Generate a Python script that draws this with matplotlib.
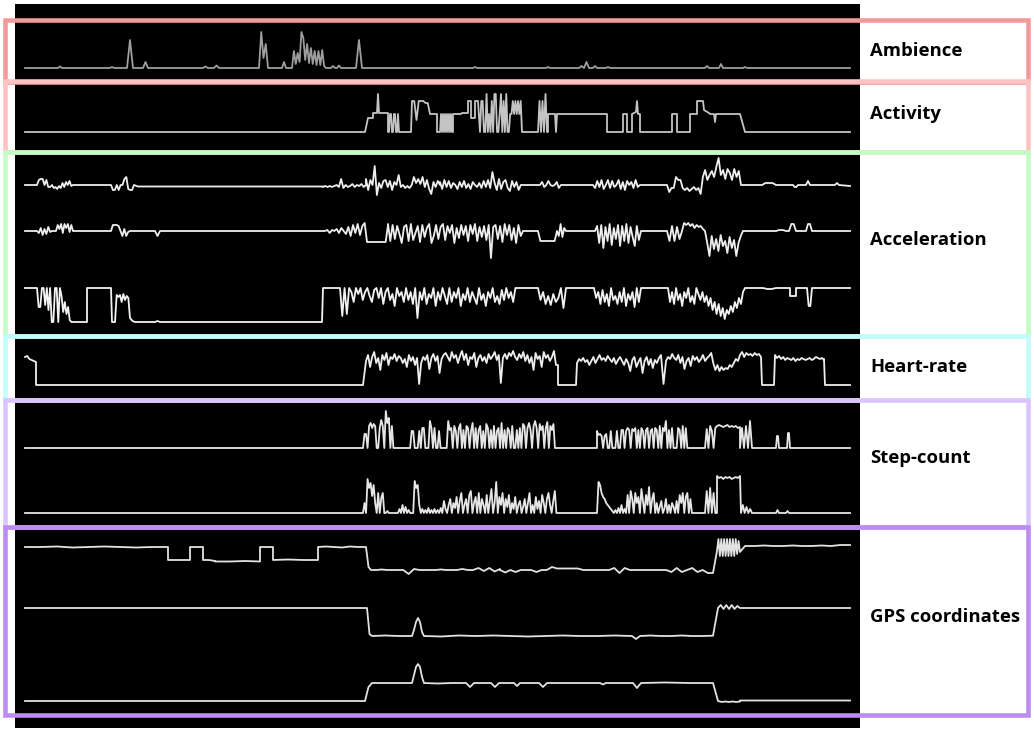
import matplotlib
matplotlib.use("Agg")
import matplotlib.pyplot as plt
import numpy as np
from matplotlib.patches import Rectangle

# === sensor traces ===
# every piece is (t_start, t_end, values); values are spread evenly over the span
# time in samples, values in display units above each trace's zero level

AMBIENCE = [
    (25, 58, [0, 0]), (58, 62, [0, 1.5, 0]), (110, 114, [0, 1, 0]),
    (127, 133, [0, 28, 0]), (143, 148, [0, 6, 0]), (203, 208, [0, 1.5, 0]),
    (214, 219, [0, 2.5, 0]), (259, 268, [0, 36, 10, 24, 0]), (282, 286, [0, 6, 0]),
    (292, 326, [0, 17, 4, 15, 6, 36, 30, 8, 24, 5, 20, 4, 17, 3, 17, 3, 18, 2, 0]),
    (331, 335, [0, 2, 0]), (337, 341, [0, 2.5, 0]), (356, 362, [0, 28, 0]),
    (473, 477, [0, 1, 0]), (546, 550, [0, 1, 0]), (579, 584, [0, 2, 0]),
    (584, 589, [0, 6, 0]), (593, 597, [0, 2, 0]), (606, 610, [0, 1, 0]),
    (705, 709, [0, 2, 0]), (719, 723, [0, 4, 0]), (743, 747, [0, 1, 0]),
    (850, 850, [0]),
]

ACTIVITY = [
    (25, 365, [0, 0]), (365, 368, [0, 14]), (368, 373, [14, 14]), (373, 373, [14, 19]),
    (373, 377, [19, 19]), (377, 379, [19, 38, 19]), (379, 388, [19, 19]), (388, 388, [19, 0]),
    (389, 399, [0, 18, 18, 0, 0, 18, 18, 0, 0, 18, 0]),
    (411, 412, [0, 31]), (412, 430, [31, 31, 12, 31, 31, 31, 29, 29, 18]),
    (430, 437, [18, 18]), (437, 437, [18, 0]),
    (440, 452, [0, 18, 0, 18, 0, 18, 0, 18, 0, 18, 0, 18, 0]),
    (453, 453, [0, 18]), (453, 461, [18, 18]), (462, 467, [19, 19]), (468, 468, [19, 31]),
    (468, 470, [31, 31]), (471, 471, [31, 14]), (471, 474, [14, 14]), (475, 475, [14, 31]),
    (475, 478, [31, 31]), (478, 480, [31, 0]),
    (480, 522, [0, 31, 31, 0, 0, 38, 0, 18, 0, 31, 0, 38, 38, 0, 0, 18, 38, 0, 31, 0, 38, 0,
                0, 18, 18, 31, 18, 31, 18, 31, 18, 31, 0]),
    (538, 547, [0, 31, 0, 31, 0, 38, 0]),
    (548, 548, [0, 18]), (548, 555, [18, 18]), (555, 557, [18, 0, 18]), (557, 607, [18, 18]),
    (607, 607, [18, 0]), (623, 623, [0, 18]), (623, 626, [18, 18]), (627, 627, [18, 0]),
    (632, 632, [0, 18]), (632, 636, [18, 20]), (637, 638, [31, 18]), (640, 640, [18, 0]),
    (672, 672, [0, 18]), (672, 677, [18, 18]), (677, 677, [18, 0]),
    (690, 690, [0, 18]), (690, 696, [18, 18]), (697, 697, [18, 31]), (697, 703, [31, 31]),
    (704, 709, [22, 19]), (710, 714, [18, 18]), (715, 716, [10, 18]), (716, 740, [18, 18]),
    (740, 745, [18, 0]), (850, 850, [0]),
]

ACC_1 = [
    (25, 37, [0, 0]),
    (37, 52, [0, 5, 6, 6, 0, 5, -2, -2, 0]),
    (52, 73, [0, -3, -2, -4, -1, -3, 2, -2, 3, 0, 4, -1, 0]),
    (111, 134, [0, -5, -5, 0, -5, 0, 0, 6, 8, -4, -5, -5, 0]),
    (138, 323, [-1.5, -1.5]),
    (323, 366, [-2, -1, -2, -1, -2, -1, 0, -2, 6, -3, 0, -2, -1, 1, -2, 0, -1, 1, -2, 0]),
    (366, 440, [6, -5, 5, 0, 19, -10, 2, -3, 4, 5, -2, 4, -5, 3, 0, 10, -2, 0, -3, -1, -3, 0,
                8, 2, 6, 1, 8, -2, 5, -4, -9, 3, -2, 4, 0]),
    (440, 523, [3, -4, 5, -2, 4, -3, 2, 0, -4, 3, -2, 4, -3, 1, -4, 3, 0, -2, 2, -3, 4, -2, 5,
                -3, 13, 2, -5, 6, -4, 3, 5, -3, -6, 4, -2, 3, -5, 0, 0]),
    (540, 563, [0, 3, -2, 0, 4, 0, -1, 0, 3, -3, 0, 0]),
    (593, 642, [0, -3, 4, -2, 5, -4, 0, 5, -3, 4, -2, 0, 5, -4, 3, -5, 4, 0, 3, -3, 5, -2, 0, 0]),
    (667, 741, [0, -7, -3, -3, 8, 5, 5, -3, -5, -3, -6, -4, -2, -5, -3, -9, 8, 15, 5, 10, 14, 8,
                18, 27, 10, 15, 6, 16, 12, 5, 16, 8, 14, 0]),
    (762, 776, [0, 2, 2, 2, 0]), (793, 798, [0, -2, -2, 0]), (806, 810, [0, 4, 0]),
    (835, 839, [0, 2, 0]), (850, 850, [-1]),
]

ACC_2 = [
    (25, 37, [0, 0]),
    (37, 52, [0, -2, 3, -4, 2, -3, 4, -1, 0]),
    (56, 73, [0, 6, 2, 7, -2, 7, 3, 7, -1, 6, 0]),
    (111, 130, [0, 6, 6, 6, 5, 0, -5, 2, -5, -1, 0]),
    (155, 160, [0, -5, 0]),
    (325, 388, [0, 1, -2, 1, 0, 2, -2, 3, 0, -3, 4, -5, 6, -2, 7, -4, 5, 8, -11, -11, -11, -11,
                -11, -11, -11, -11, -11, 6]),
    (388, 523, [7, -10, 6, -8, 5, -3, -12, 4, 6, -10, 7, -9, -2, 5, -11, 6, -6, 3, 7, -12, -5, 6,
                -8, 4, 7, -9, 5, -2, 6, -12, 3, -7, 6, -4, 5, -10, 6, -3, 7, -10, 4, -6, 5, -9,
                6, -27, 4, 6, -8, 5, -11, 7, -4, 6, -9, 3, -12, 6, -5, 0]),
    (538, 557, [0, -10, -10, -10, -10, -10, -10, -10, 0]),
    (557, 566, [0, -5, 7, -6, 3, 0]),
    (595, 641, [0, 5, -12, 6, -17, 4, -10, 7, -14, 3, -8, 6, -15, 5, -10, 7, -12, 4, -6, -15, 5,
                -9, 0]),
    (667, 682, [0, -10, 5, -10, 4, -8, 0]),
    (682, 705, [0, 8, 6, 8, 5, 7, 3, 6, 4, 5, 2, 0]),
    (705, 743, [0, -12, -25, -5, -18, -8, -20, -4, -15, -10, -22, -6, -17, -9, -25, -12, -5, 0]),
    (776, 786, [0, 1, 1, 0]), (789, 796, [0, 7, 7, 0]), (806, 812, [0, 7, 7, 0]),
    (850, 850, [0]),
]

ACC_3 = [
    (25, 37, [34, 34]),
    (37, 73, [34, 15, 15, 34, 34, 17, 34, 12, 34, 0, 0, 34, 34, 0, 34, 26, 10, 20, 8, 15, 2, 0, 0]),
    (87, 87, [0, 34]), (87, 111, [34, 34]), (111, 112, [34, 0]),
    (115, 130, [0, 27, 25, 27, 20, 28, 22, 26, 24, 4]), (130, 135, [4, 1, 0]),
    (155, 160, [0, 1, 0]),
    (322, 323, [0, 34]), (323, 340, [34, 34]),
    (340, 520, [34, 6, 34, 8, 34, 30, 20, 34, 28, 34, 22, 30, 34, 26, 20, 32, 34, 24, 34, 18, 30,
                34, 22, 28, 16, 34, 26, 30, 20, 34, 22, 30, 18, 34, 4, 30, 22, 34, 18, 28, 24, 34,
                16, 30, 22, 34, 26, 18, 34, 20, 30, 24, 34, 16, 28, 22, 34, 20, 30, 24, 18, 34,
                22, 28, 16, 30, 24, 34, 20, 26, 18, 32, 22, 34, 24, 30, 20, 34, 34, 34]),
    (538, 566, [34, 22, 30, 18, 26, 17, 28, 20, 24, 34, 14, 34]),
    (594, 641, [34, 24, 30, 18, 32, 20, 28, 16, 34, 22, 26, 18, 30, 20, 34, 16, 28, 22, 30, 15,
                34, 20, 34]),
    (668, 745, [34, 20, 30, 18, 34, 22, 28, 16, 30, 24, 34, 20, 26, 18, 34, 28, 22, 30, 20, 26,
                16, 24, 12, 20, 8, 18, 6, 14, 3, 12, 8, 16, 10, 20, 14, 24, 18, 30, 34]),
    (763, 776, [34, 33, 33, 34]), (790, 790, [34, 26]), (796, 796, [26, 34]),
    (807, 812, [34, 16, 16, 34]), (850, 850, [34]),
]

HEART = [
    (25, 36, [28, 29, 26, 25, 24, 23]), (36, 36, [23, 0]),
    (363, 366, [0, 24]),
    (366, 556, [24, 30, 18, 28, 33, 22, 27, 15, 30, 25, 32, 20, 28, 26, 31, 24, 29, 27, 22, 26, 18,
                30, 24, 28, 20, 27, 1, 22, 28, 25, 30, 16, 27, 31, 24, 29, 12, 26, 30, 32, 28, 24,
                33, 27, 30, 22, 29, 34, 25, 31, 20, 28, 26, 32, 18, 27, 30, 24, 28, 22, 31, 26, 29,
                33, 25, 30, 2, 27, 31, 26, 32, 29, 34, 28, 25, 31, 27, 33, 24, 30, 22, 28, 15, 32,
                26, 29, 18, 33, 27, 30, 24, 28, 34, 20]),
    (558, 558, [20, 0]),
    (576, 577, [0, 22]),
    (577, 661, [22, 26, 24, 27, 23, 25, 20, 24, 28, 22, 26, 30, 25, 27, 24, 29, 26, 23, 27, 21, 25,
                28, 24, 20, 26, 22, 14, 25, 28, 18, 23, 27, 12, 24, 28, 20, 26, 17, 25, 22, 27, 30]),
    (661, 666, [30, 1, 24]),
    (666, 740, [24, 28, 26, 31, 27, 25, 30, 22, 28, 16, 24, 27, 19, 29, 25, 28, 23, 26, 30, 24, 27,
                29, 32, 22, 15, 20, 14, 18, 15, 17, 16, 20, 18, 22, 26, 24, 30]),
    (740, 761, [30, 33, 28, 32, 30, 31, 29, 32, 30, 31, 28]),
    (761, 762, [28, 0]), (774, 775, [0, 30]),
    (775, 824, [30, 27, 29, 26, 28, 25, 27, 26, 25, 27, 24, 26, 25, 27, 26, 25, 26, 27, 25, 26, 28,
                27, 26, 27, 25]),
    (824, 825, [26, 0]), (850, 850, [0]),
]

STEPS_1 = [
    (25, 363, [0, 0]),
    (363, 436, [0, 14, 14, 0, 22, 25, 20, 24, 22, 0, 0, 20, 28, 22, 0, 37, 25, 30, 0, 22, 0, 0, 0, 0,
                0, 0, 0, 0, 0, 0, 0, 0, 17, 17, 0, 0, 0, 17, 0, 20, 20, 0, 0, 0, 27, 20, 0, 20, 0]),
    (436, 558, [0, 0, 17, 0, 0, 0, 0, 0, 27, 18, 20, 0, 22, 17, 0, 20, 24, 0, 18, 0, 22, 20, 0, 17,
                25, 0, 20, 0, 18, 22, 0, 17, 0, 24, 20, 0, 18, 0, 22, 0, 17, 20, 0, 25, 0, 18, 0, 20,
                17, 0, 22, 0, 0, 18, 0, 20, 0, 24, 22, 0, 20, 25, 18, 0, 22, 27, 20, 0, 24, 18, 22, 0,
                20, 26, 0, 22, 18, 24, 0, 0, 0]),
    (597, 597, [0]),
    (597, 695, [17, 13, 14, 12, 0, 12, 14, 0, 0, 17, 0, 0, 0, 17, 0, 0, 18, 18, 0, 17, 20, 18, 0, 19,
                17, 20, 0, 18, 0, 20, 17, 0, 18, 20, 0, 17, 19, 0, 20, 18, 0, 22, 0, 20, 17, 27, 0,
                18, 0, 20, 0, 0, 0, 20, 18, 0, 22, 0, 20, 0, 0, 0, 0, 0, 0]),
    (705, 717, [0, 19, 0, 22, 17, 0, 20, 22]),
    (717, 740, [22, 23, 22, 21, 22, 23, 21, 22, 21, 22, 20, 21]),
    (740, 752, [0, 20, 0, 22, 0, 27, 0]),
    (776, 779, [0, 12, 12, 0]), (787, 790, [0, 15, 15, 0]), (850, 850, [0]),
]

STEPS_2 = [
    (25, 363, [0, 0]),
    (363, 436, [0, 10, 0, 34, 25, 30, 17, 28, 10, 0, 20, 0, 15, 20, 0, 0, 2, 0, 0, 0, 0, 0, 0, 0, 4,
                0, 8, 0, 6, 0, 3, 0, 0, 0, 32, 25, 28, 8, 0, 4, 0, 3, 0, 5, 0, 3, 0, 4, 0]),
    (436, 558, [0, 3, 0, 5, 0, 12, 4, 0, 8, 14, 0, 10, 5, 16, 0, 12, 20, 0, 8, 14, 0, 18, 22, 0, 10,
                16, 0, 20, 0, 14, 8, 0, 18, 0, 12, 24, 0, 10, 31, 0, 16, 8, 20, 0, 14, 6, 18, 0, 10, 4,
                16, 0, 8, 12, 0, 6, 14, 0, 10, 20, 0, 8, 0, 16, 4, 12, 0, 18, 10, 0, 14, 20, 8, 0, 12,
                22, 0, 0]),
    (597, 695, [0, 31, 28, 20, 16, 14, 10, 8, 6, 4, 2, 0, 3, 0, 5, 0, 8, 0, 4, 0, 18, 0, 22, 14, 0,
                20, 10, 16, 0, 24, 12, 0, 18, 8, 26, 0, 14, 20, 0, 10, 0, 6, 12, 0, 4, 14, 0, 8, 0, 10,
                6, 0, 12, 0, 18, 10, 20, 0, 16, 20, 0, 14, 0, 0, 0]),
    (705, 717, [0, 22, 0, 25, 0, 20, 0, 0]),
    (717, 717, [0, 37]),
    (717, 740, [37, 35, 36, 34, 36, 35, 36, 34, 35, 36, 35, 37]),
    (740, 741, [37, 0]),
    (741, 752, [0, 8, 0, 6, 0, 4, 0]),
    (776, 779, [0, 3, 0]), (786, 789, [0, 2, 0]), (850, 850, [0]),
]

GPS_1 = [
    (25, 168, [23, 23, 23.5, 22.5, 23, 23.5, 23, 22.5, 23, 23]),
    (168, 168, [23, 10]), (168, 190, [10, 10]), (190, 190, [10, 23]), (190, 203, [23, 23]),
    (203, 203, [23, 10]), (203, 215, [10, 10, 9]), (215, 260, [8.5, 8.5, 9, 8.5]),
    (260, 260, [9, 23]), (260, 273, [23, 23]), (273, 273, [23, 10]), (273, 318, [10, 10.5, 10, 10]),
    (318, 318, [10, 23]), (318, 366, [23, 23.5, 23, 22.5, 23.5, 23, 23]),
    (366, 371, [23, 3, 0]),
    (371, 500, [0, 0, 0.5, 0, 0, 0, 0, -4, 1, 0, 0, 0, 0, 0.5, 0, 0, 0, 1, 0, 0, 2, -1, 2, -1.5, 1]),
    (500, 713, [0, -2.5, 0, -2, 0, 0, 0, -2, 0, 0, 3, 1.5, 1.5, 1.5, 1.5, 1.5, 0, 0, 0, 0, 0, 0, 2,
                -3, 2, 0, 0, 0, 0, 0, 0, 0, 0, -2, 2, -2, 0, 2, -2, 0, -3, -3]),
    (713, 717, [-3, 19]),
    (717, 740, [19, 31, 14, 31, 14, 31, 14, 31, 14, 31, 14, 31, 14, 31, 16, 29, 18]),
    (740, 745, [18, 24]),
    (745, 850, [24, 24, 24.5, 24, 24, 24.5, 24, 24, 24.5, 24, 25, 25]),
]

GPS_2 = [
    (25, 367, [28, 28]), (367, 372, [28, 2, 0]), (372, 412, [0, 0.5, 0, 0]),
    (412, 424, [0, 6, 14, 18, 14, 4, 0]),
    (424, 632, [0, -0.5, 0.5, 0, 0.5, 0, -0.5, 0, 0.5, 0, 0, 0.5, 0]),
    (632, 640, [0, -3, 0]), (640, 713, [0, 0.5, 0, 0, 0.5, 0, 0, 0.3]),
    (713, 718, [0.3, 28]), (718, 740, [28, 31, 27, 31, 27, 31, 27, 30, 28]),
    (850, 850, [28]),
]

GPS_3 = [
    (25, 365, [0, 0]), (365, 372, [0, 14, 18]), (372, 412, [18, 18]),
    (412, 424, [18, 26, 34, 37, 34, 24, 18]),
    (424, 466, [18, 17.5, 18, 18]), (466, 474, [18, 14, 18]), (491, 499, [18, 14, 18]),
    (514, 520, [18, 15, 18]), (539, 547, [18, 14, 18]), (600, 606, [18, 16.5, 18]),
    (633, 641, [18, 13, 18]), (641, 713, [18, 18.5, 18, 18]), (713, 718, [18, 0]),
    (718, 740, [0, -1, -0.5, -1, -0.5, -1, -0.5]), (740, 850, [0.5, 0.5]),
]

# (trace, zero level on the panel, colour)
TRACES = [
    (AMBIENCE, 67, "#9e9e9e"),
    (ACTIVITY, 131, "#c4c4c4"),
    (ACC_1, 184, "#eeeeee"),
    (ACC_2, 230, "#eeeeee"),
    (ACC_3, 321, "#f2f2f2"),
    (HEART, 384, "#eeeeee"),
    (STEPS_1, 447, "#e6e6e6"),
    (STEPS_2, 512, "#e6e6e6"),
    (GPS_1, 569, "#e2e2e2"),
    (GPS_2, 635, "#e2e2e2"),
    (GPS_3, 700, "#e2e2e2"),
]

# group boxes: label, top, bottom (pixels), colour, label centre
GROUPS = [
    ("Ambience", 20, 81.5, "#f09a9a", 51),
    ("Activity", 81.5, 151.5, "#ffc2c2", 114),
    ("Acceleration", 151.5, 335.5, "#c4fcc4", 240),
    ("Heart-rate", 335.5, 399.5, "#c2fcfc", 367),
    ("Step-count", 399.5, 526.5, "#dcc4fc", 458),
    ("GPS coordinates", 526.5, 714.5, "#bc8cf2", 617),
]


def expand(pieces):
    ts, vs = [], []
    for t0, t1, vals in pieces:
        ts.extend(np.linspace(t0, t1, len(vals)))
        vs.extend(vals)
    return np.array(ts), np.array(vs, dtype=float)


W, H = 1034, 731
fig = plt.figure(figsize=(W / 100, H / 100), dpi=100)
fig.patch.set_facecolor("white")

# black panel, 1 data unit = 1 pixel
ax = fig.add_axes([15 / W, 3 / H, 845 / W, 724 / H])
ax.set_facecolor("black")
ax.set_xlim(15, 860)
ax.set_ylim(727, 3)
ax.set_xticks([])
ax.set_yticks([])
for s in ax.spines.values():
    s.set_visible(False)

for pieces, zero, col in TRACES:
    t, v = expand(pieces)
    ax.plot(t, zero - v, color=col, lw=1.3)

# coloured boxes and labels
for name, top, bot, col, ylab in GROUPS:
    fig.add_artist(Rectangle((5 / W, 1 - bot / H), 1023 / W, (bot - top) / H,
                             transform=fig.transFigure, fill=False, ec=col, lw=3.3))
    fig.text(870 / W, 1 - ylab / H, name, ha="left", va="center",
             fontsize=13.3, fontweight="bold", family="Open Sans", color="black")

fig.savefig("out.png", dpi=100, facecolor="white")
